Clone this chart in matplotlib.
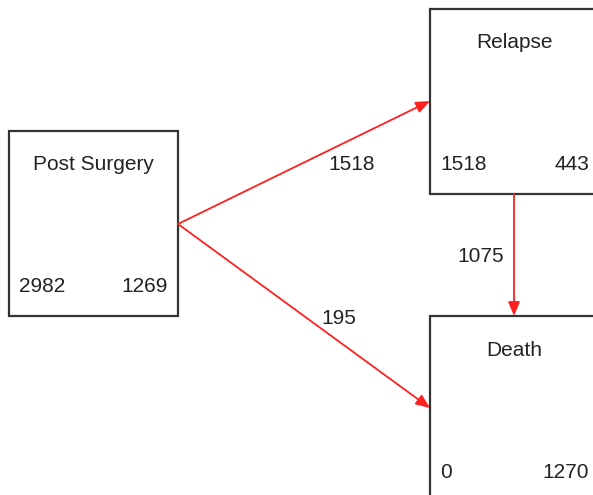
import matplotlib.pyplot as plt
from matplotlib.patches import Rectangle

# --- Data ---
states = ["Post Surgery", "Relapse", "Death"]
left_counts = [2982, 1518, 0]
right_counts = [1269, 443, 1270]
trans_from = [0, 0, 1]
trans_to = [1, 2, 2]
trans_counts = [1518, 195, 1075]

# --- Layout (pixels, origin top-left) ---
box_w, box_h = 169, 185
box_xy = [(9, 131), (430, 9), (430, 316)]
# where each arrow starts/ends and where its label sits
arrow_start = [(178, 224), (178, 224), (514, 194)]
arrow_end = [(430, 101), (430, 408), (514, 316)]
label_xy = [(352, 164), (339, 318), (481, 256)]

plt.rcParams['font.family'] = ['Liberation Sans', 'DejaVu Sans']
fs = 15

fig = plt.figure(figsize=(5.93, 4.95), dpi=100)
ax = fig.add_axes([0, 0, 1, 1])
ax.set_xlim(0, 593)
ax.set_ylim(495, 0)
ax.axis("off")

for i, name in enumerate(states):
    x, y = box_xy[i]
    ax.add_patch(Rectangle((x, y), box_w, box_h, facecolor="white",
                           edgecolor="#333333", linewidth=1.6, zorder=2))
    ax.text(x + box_w / 2, y + 34, name, ha="center", va="center",
            fontsize=fs, color="#222222", zorder=3)
    ax.text(x + 10, y + box_h - 29, str(left_counts[i]), ha="left",
            va="center", fontsize=fs, color="#222222", zorder=3)
    ax.text(x + box_w - 10, y + box_h - 29, str(right_counts[i]), ha="right",
            va="center", fontsize=fs, color="#222222", zorder=3)

for k in range(len(trans_counts)):
    ax.annotate("", xy=arrow_end[k], xytext=arrow_start[k],
                arrowprops=dict(arrowstyle="-|>,head_length=0.6,head_width=0.25",
                                color="#ff2020", lw=1.3,
                                mutation_scale=14, shrinkA=0, shrinkB=0),
                zorder=4)
    ax.text(label_xy[k][0], label_xy[k][1], str(trans_counts[k]),
            ha="center", va="center", fontsize=fs, color="#222222")

fig.savefig("out.png", dpi=100)
